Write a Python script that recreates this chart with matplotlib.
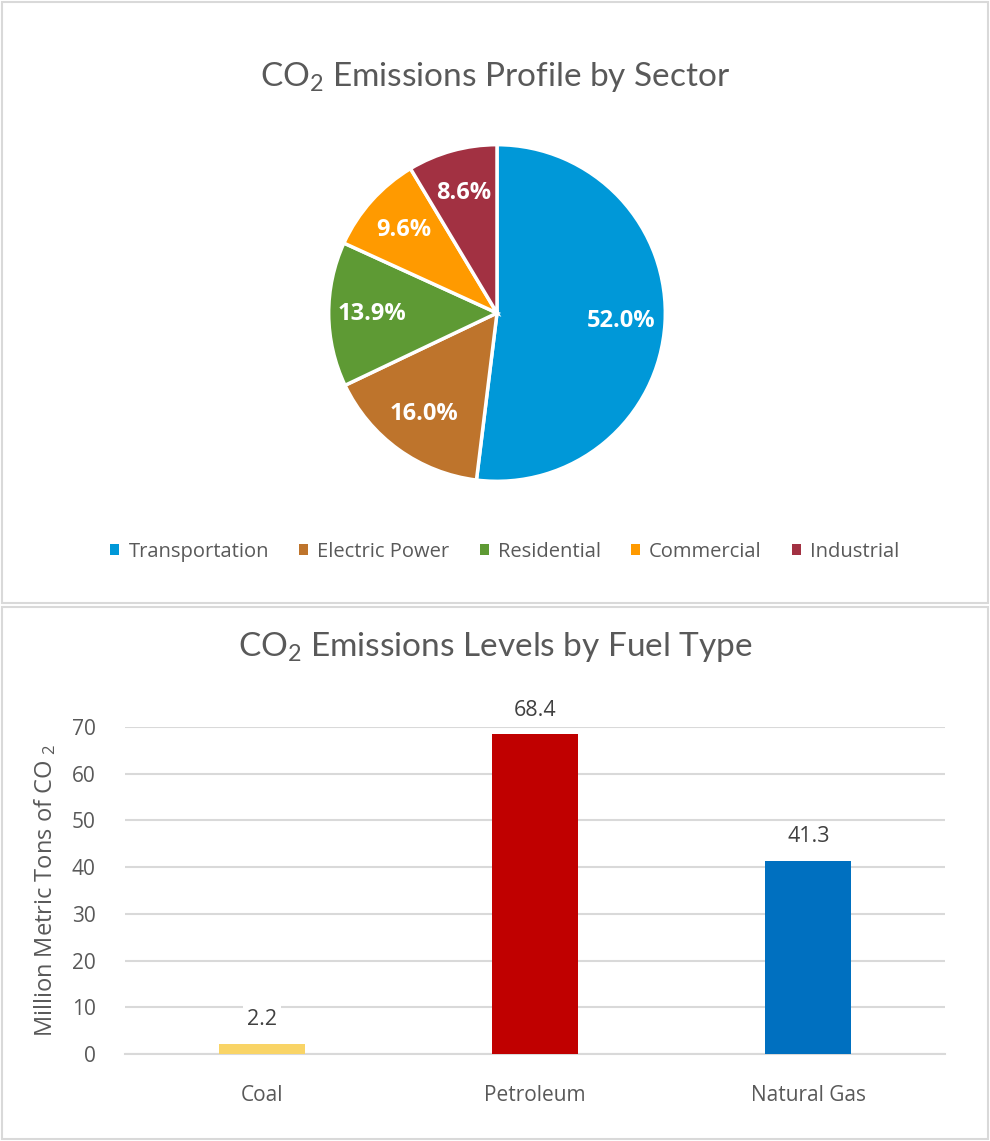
import matplotlib
matplotlib.use("Agg")
import matplotlib.pyplot as plt
import numpy as np
from matplotlib.patches import Rectangle, Patch

# ---- data ----
sectors = ["Transportation", "Electric Power", "Residential", "Commercial", "Industrial"]
sector_share = [52.0, 16.0, 13.9, 9.6, 8.6]
sector_colors = ["#0098D8", "#BE742C", "#5E9A34", "#FF9A00", "#A23142"]

fuels = ["Coal", "Petroleum", "Natural Gas"]
fuel_values = [2.2, 68.4, 41.3]
fuel_colors = ["#F9D466", "#C00000", "#0070C0"]
y_ticks = [0, 10, 20, 30, 40, 50, 60, 70]

plt.rcParams["font.family"] = ["Open Sans", "DejaVu Sans"]
plt.rcParams["mathtext.default"] = "regular"

W, H = 990, 1141
fig = plt.figure(figsize=(W / 100, H / 100), dpi=100)
fig.patch.set_facecolor("white")

def fx(x):
    return x / W

def fy(y):
    return 1 - y / H

TXT = "#595959"
GRID = "#D9D9D9"

# panel borders
for (x0, y0, x1, y1) in [(2, 2, 988, 603), (2, 607, 988, 1139)]:
    fig.patches.append(Rectangle((fx(x0), fy(y1)), fx(x1) - fx(x0), fy(y0) - fy(y1),
                                 transform=fig.transFigure, fill=False,
                                 edgecolor=GRID, linewidth=1.5))

# ---- pie ----
cx, cy, r = 497, 313, 170
axp = fig.add_axes([fx(cx - r), fy(cy + r), fx(2 * r), (2 * r) / H])
wedges, _ = axp.pie(
    sector_share, colors=sector_colors, startangle=90, counterclock=False, radius=1,
    wedgeprops=dict(edgecolor="white", linewidth=2.5))
for w, v in zip(wedges, sector_share):
    ang = np.deg2rad((w.theta1 + w.theta2) / 2)
    axp.text(0.74 * np.cos(ang), 0.74 * np.sin(ang), f"{v:.1f}%", ha="center", va="center",
             color="white", fontsize=17, fontweight="bold")
axp.set_xlim(-1.01, 1.01)
axp.set_ylim(-1.01, 1.01)
axp.set_aspect("equal")
axp.axis("off")

fig.text(0.5, fy(77), r"CO$_2$ Emissions Profile by Sector", ha="center", va="center",
         fontsize=24, color=TXT, family=["Lato", "DejaVu Sans"])

handles = [Patch(facecolor=c, edgecolor="none") for c in sector_colors]
fig.legend(handles, sectors, loc="center", bbox_to_anchor=(0.51, fy(552)), ncol=5,
           frameon=False, fontsize=14.5, labelcolor=TXT, handlelength=0.45,
           handleheight=0.45, handletextpad=0.45, columnspacing=1.5)

# ---- bar ----
axb = fig.add_axes([fx(125), fy(1054), fx(945) - fx(125), (1054 - 727) / H])
xs = range(len(fuels))
bars = axb.bar(xs, fuel_values, width=0.315, color=fuel_colors, zorder=3)
axb.set_xlim(-0.5, len(fuels) - 0.5)
axb.set_ylim(0, 70)
axb.set_yticks(y_ticks)
axb.set_xticks(list(xs))
axb.set_xticklabels(fuels)
axb.yaxis.grid(True, color=GRID, linewidth=1.5, zorder=0)
axb.set_axisbelow(True)
for s in ["top", "right", "left"]:
    axb.spines[s].set_visible(False)
axb.spines["bottom"].set_color(GRID)
axb.spines["bottom"].set_linewidth(1.5)
axb.tick_params(axis="both", length=0, labelsize=15, labelcolor=TXT)
axb.tick_params(axis="x", pad=22)
axb.tick_params(axis="y", pad=21)
lbls = axb.bar_label(bars, labels=[f"{v:.1f}" for v in fuel_values], padding=10,
                     fontsize=15.5, color="#404040")
for t in lbls:
    t.set_bbox(dict(facecolor="white", edgecolor="none", pad=3))
axb.set_ylabel(r"Million Metric Tons of CO $_2$", fontsize=17, color=TXT, labelpad=10)
fig.text(0.5, fy(647), r"CO$_2$ Emissions Levels by Fuel Type", ha="center", va="center",
         fontsize=24, color=TXT, family=["Lato", "DejaVu Sans"])

fig.savefig("out.png", dpi=100, facecolor="white")
